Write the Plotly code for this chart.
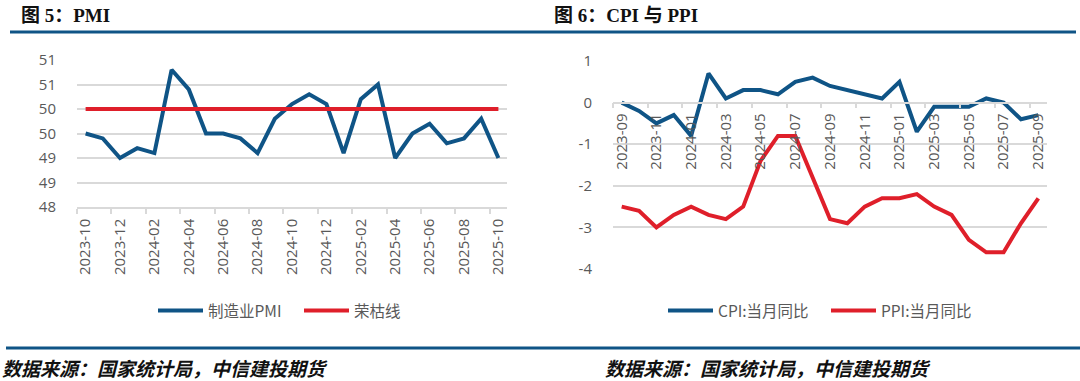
import plotly.graph_objects as go

W, H = 1080, 381

# ---------------- data ----------------
pmi_months = ["2023-10", "2023-11", "2023-12", "2024-01", "2024-02", "2024-03", "2024-04",
              "2024-05", "2024-06", "2024-07", "2024-08", "2024-09", "2024-10", "2024-11",
              "2024-12", "2025-01", "2025-02", "2025-03", "2025-04", "2025-05", "2025-06",
              "2025-07", "2025-08", "2025-09", "2025-10"]
pmi_values = [49.5, 49.4, 49.0, 49.2, 49.1, 50.8, 50.4, 49.5, 49.5, 49.4, 49.1, 49.8, 50.1,
              50.3, 50.1, 49.1, 50.2, 50.5, 49.0, 49.5, 49.7, 49.3, 49.4, 49.8, 49.0]
boom_bust_line = [50, 50, 50, 50, 50, 50, 50, 50, 50, 50, 50, 50, 50,
                  50, 50, 50, 50, 50, 50, 50, 50, 50, 50, 50, 50]
pmi_ytick_vals = [48, 48.5, 49, 49.5, 50, 50.5, 51]
pmi_ytick_text = ["48", "49", "49", "50", "50", "51", "51"]

price_months = ["2023-09", "2023-10", "2023-11", "2023-12", "2024-01", "2024-02", "2024-03",
                "2024-04", "2024-05", "2024-06", "2024-07", "2024-08", "2024-09", "2024-10",
                "2024-11", "2024-12", "2025-01", "2025-02", "2025-03", "2025-04", "2025-05",
                "2025-06", "2025-07", "2025-08", "2025-09"]
cpi_values = [0.0, -0.2, -0.5, -0.3, -0.8, 0.7, 0.1, 0.3, 0.3, 0.2, 0.5, 0.6, 0.4, 0.3,
              0.2, 0.1, 0.5, -0.7, -0.1, -0.1, -0.1, 0.1, 0.0, -0.4, -0.3]
ppi_values = [-2.5, -2.6, -3.0, -2.7, -2.5, -2.7, -2.8, -2.5, -1.4, -0.8, -0.8, -1.8, -2.8,
              -2.9, -2.5, -2.3, -2.3, -2.2, -2.5, -2.7, -3.3, -3.6, -3.6, -2.9, -2.3]
price_ytick_vals = [-4, -3, -2, -1, 0, 1]
price_ytick_text = ["-4", "-3", "-2", "-1", "0", "1"]

# ---------------- style ----------------
BLUE = "#0F5486"
RED = "#DF1F2A"
GRID = "#D9D9D9"
TXT = "#595959"
TICKFONT = dict(family="Open Sans, Noto Sans CJK SC", size=15, color=TXT)
LEGFONT = dict(family="Noto Sans CJK SC", size=15.5, color=TXT)

def px_x(p):
    return p / W

def px_y(p):
    return (H - p) / H

fig = go.Figure()

fig.add_trace(go.Scatter(x=pmi_months, y=pmi_values, mode="lines", name="制造业PMI",
                         line=dict(color=BLUE, width=4), xaxis="x", yaxis="y", legend="legend"))
fig.add_trace(go.Scatter(x=pmi_months, y=boom_bust_line, mode="lines", name="荣枯线",
                         line=dict(color=RED, width=4), xaxis="x", yaxis="y", legend="legend"))
fig.add_trace(go.Scatter(x=price_months, y=cpi_values, mode="lines", name="CPI:当月同比",
                         line=dict(color=BLUE, width=4), xaxis="x2", yaxis="y2", legend="legend2"))
fig.add_trace(go.Scatter(x=price_months, y=ppi_values, mode="lines", name="PPI:当月同比",
                         line=dict(color=RED, width=4), xaxis="x2", yaxis="y2", legend="legend2"))

y1_dom = [px_y(207), px_y(60)]
y2_dom = [px_y(269), px_y(61)]
zero_pos = y2_dom[0] + (0 - (-4)) / 5 * (y2_dom[1] - y2_dom[0])

fig.update_layout(
    width=W, height=H,
    margin=dict(l=0, r=0, t=0, b=0, pad=0, autoexpand=False),
    paper_bgcolor="white", plot_bgcolor="white",
    hovermode=False,
    xaxis=dict(domain=[px_x(77), px_x(507)], type="category", range=[-0.5, 24.5],
               anchor="y", showgrid=False, showline=True, linecolor=GRID, linewidth=1.5,
               ticks="outside", ticklen=5, tickcolor=GRID, tickwidth=1.5, tickson="boundaries",
               tickmode="linear", tick0=0, dtick=2, tickangle=-90, tickfont=TICKFONT,
               ticklabelstandoff=4, zeroline=False, automargin=False),
    yaxis=dict(domain=y1_dom, range=[48, 51], anchor="x", tickmode="array",
               tickvals=pmi_ytick_vals, ticktext=pmi_ytick_text, showgrid=True,
               gridcolor=GRID, gridwidth=1.5, zeroline=False, showline=False,
               tickfont=TICKFONT, ticklabelstandoff=20, automargin=False),
    xaxis2=dict(domain=[px_x(613), px_x(1047)], type="category", range=[-0.5, 24.5],
                anchor="free", position=zero_pos, showgrid=False,
                showline=True, linecolor=GRID, linewidth=1.5,
                ticks="outside", ticklen=5, tickcolor=GRID, tickwidth=1.5, tickson="boundaries",
                tickmode="linear", tick0=0, dtick=2, tickangle=-90, tickfont=TICKFONT,
                ticklabelstandoff=4, zeroline=False, automargin=False),
    yaxis2=dict(domain=y2_dom, range=[-4, 1], anchor="x2", tickmode="array",
                tickvals=price_ytick_vals, ticktext=price_ytick_text, showgrid=True,
                gridcolor=GRID, gridwidth=1.5, zeroline=False, showline=False,
                tickfont=TICKFONT, ticklabelstandoff=20, automargin=False),
    legend=dict(orientation="h", x=px_x(153), y=px_y(311), xanchor="left", yanchor="middle",
                font=LEGFONT, bgcolor="rgba(0,0,0,0)", itemwidth=45, traceorder="normal",
                entrywidth=86, entrywidthmode="pixels"),
    legend2=dict(orientation="h", x=px_x(663), y=px_y(311), xanchor="left", yanchor="middle",
                 font=LEGFONT, bgcolor="rgba(0,0,0,0)", itemwidth=45, traceorder="normal",
                 entrywidth=103, entrywidthmode="pixels"),
    showlegend=True,
)

# rules
fig.add_shape(type="line", xref="paper", yref="paper", x0=px_x(10), x1=px_x(1076),
              y0=px_y(32), y1=px_y(32), line=dict(color=BLUE, width=3))
fig.add_shape(type="line", xref="paper", yref="paper", x0=px_x(6), x1=px_x(1080),
              y0=px_y(348), y1=px_y(348), line=dict(color=BLUE, width=3))

TITLEFONT = dict(family="Liberation Serif, Noto Sans CJK SC", size=19, color="#111111")
fig.add_annotation(text="<b>图 5：PMI</b>", xref="paper", yref="paper", x=px_x(19), y=px_y(15),
                   xanchor="left", yanchor="middle", showarrow=False, font=TITLEFONT)
fig.add_annotation(text="<b>图 6：CPI 与 PPI</b>", xref="paper", yref="paper", x=px_x(552),
                   y=px_y(15), xanchor="left", yanchor="middle", showarrow=False, font=TITLEFONT)

FOOTFONT = dict(family="Noto Sans CJK SC", size=19, color="#111111")
fig.add_annotation(text="<b><i>数据来源：国家统计局，中信建投期货</i></b>", xref="paper", yref="paper",
                   x=px_x(0), y=px_y(367), xanchor="left", yanchor="middle", showarrow=False,
                   font=FOOTFONT)
fig.add_annotation(text="<b><i>数据来源：国家统计局，中信建投期货</i></b>", xref="paper", yref="paper",
                   x=px_x(603), y=px_y(367), xanchor="left", yanchor="middle", showarrow=False,
                   font=FOOTFONT)

fig.write_html("out.html", config={"displayModeBar": False},
               post_script="document.body.style.margin='0';document.body.style.overflow='hidden';")
